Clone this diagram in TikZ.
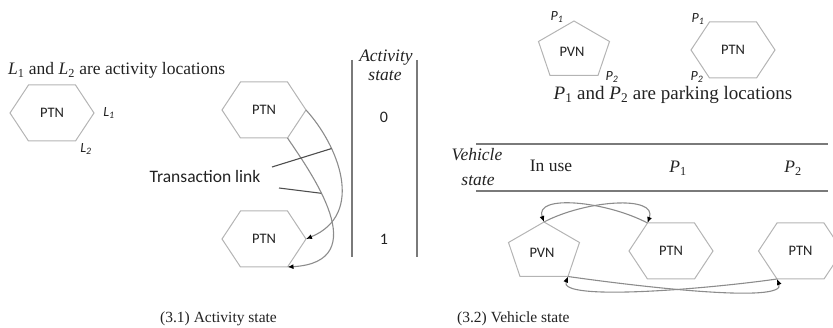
\documentclass[tikz,border=0pt]{standalone}
\usepackage{fontspec}
\setmainfont{Liberation Serif}
\newfontfamily\calfont{Carlito}
\usetikzlibrary{arrows.meta}
\definecolor{shapegray}{HTML}{B4B4B4}
\definecolor{curvegray}{HTML}{8C8C8C}
\definecolor{rulegray}{HTML}{7A7A7A}
\definecolor{inkgray}{HTML}{222222}
\begin{document}
\begin{tikzpicture}[x=1pt,y=-1pt,
  shapeline/.style={draw=shapegray, line width=1pt},
  boxtext/.style={font=\calfont\fontsize{14.5}{16}\selectfont, text=inkgray, inner sep=0pt},
  sanslabel/.style={font=\calfont\itshape\fontsize{14}{16}\selectfont, text=inkgray, inner sep=0pt},
  serif/.style={font=\fontsize{17.5}{20}\selectfont, text=inkgray, inner sep=0pt, anchor=base},
  serifit/.style={font=\itshape\fontsize{17.5}{20}\selectfont, text=inkgray, inner sep=0pt, anchor=base},
  captext/.style={font=\fontsize{15.5}{18}\selectfont, text=inkgray, inner sep=0pt, anchor=base west},
  digit/.style={font=\calfont\fontsize{16}{18}\selectfont, text=inkgray, inner sep=0pt, anchor=base},
  flow/.style={draw=curvegray, line width=1.1pt, -{Latex[length=6pt,width=5pt,color=black]}},
  pointer/.style={draw=inkgray!80, line width=1.1pt},
  rule/.style={draw=rulegray, line width=2pt},
  hexa/.pic={
    \draw[shapeline] (-42,0) coordinate (-l) -- (-23.5,-28) coordinate (-tl)
      -- (23.5,-28) coordinate (-tr) -- (42,0) coordinate (-r)
      -- (23.5,28) coordinate (-br) -- (-23.5,28) coordinate (-bl) -- cycle;
    \node[boxtext] (-c) at (0,0) {#1};
  },
  penta/.pic={
    \draw[shapeline] (0,-28.5) coordinate (-t) -- (35.5,-8) coordinate (-r)
      -- (24,26) coordinate (-br) -- (-24,26) coordinate (-bl)
      -- (-35.5,-8) coordinate (-l) -- cycle;
    \node[boxtext] (-c) at (-2,2) {#1};
  }
]
\useasboundingbox (0,0) rectangle (833,328);

% ---------- (3.1) Activity state ----------
\node[serif, anchor=base west] (legA) at (8,75)
  {\textit{L}\textsubscript{1} and \textit{L}\textsubscript{2} are activity locations};
\pic (lh) at (52,113) {hexa=PTN};
\node[sanslabel] (lL1) at (109,113) {L\textsubscript{1}};
\node[sanslabel] (lL2) at (86,149) {L\textsubscript{2}};

\pic (h1) at (264,110) {hexa=PTN};
\pic (h2) at (264,239) {hexa=PTN};

\draw[flow] (h1-r) .. controls +(32,35) and +(60,-25) .. (h2-r)
  coordinate[pos=0.3] (o1);
\draw[flow] (h1-br) .. controls +(23,34) and +(88,-5) .. (h2-br)
  coordinate[pos=0.38] (i1);

\node[font=\calfont\fontsize{17.5}{20}\selectfont, text=inkgray, inner sep=0pt, anchor=base]
  (tl) at (205,183) {Transaction link};
\coordinate (pA) at (272,167);
\coordinate (pB) at (279,188);
\draw[pointer] (pA) -- (o1);
\draw[pointer] (pB) -- (i1);

\coordinate (vlT) at (352,60);
\coordinate (vlB) at (352,257);
\coordinate (vrT) at (417,60);
\coordinate (vrB) at (417,257);
\draw[rule] (vlT) -- (vlB);
\draw[rule] (vrT) -- (vrB);
\node[serifit] (asA) at (386,62) {Activity};
\node[serifit] (asB) at (385,81) {state};
\node[digit] (d0) at (384,123) {0};
\node[digit] (d1) at (384,245) {1};

\node[captext] (cap1) at (160,323) {(3.1) Activity state};

% ---------- (3.2) Vehicle state ----------
\pic (lp) at (574,49.5) {penta=PVN};
\node[sanslabel] (lP1a) at (557,17) {P\textsubscript{1}};
\node[sanslabel] (lP2a) at (612,77) {P\textsubscript{2}};
\pic (lh2) at (733,50) {hexa=PTN};
\node[sanslabel] (lP1b) at (698,19) {P\textsubscript{1}};
\node[sanslabel] (lP2b) at (697,77) {P\textsubscript{2}};
\node[serif, font=\fontsize{19}{22}\selectfont] (legB) at (673,100)
  {\textit{P}\textsubscript{1} and \textit{P}\textsubscript{2} are parking locations};

\coordinate (rtL) at (476,144);
\coordinate (rtR) at (828,144);
\coordinate (rbL) at (476,191);
\coordinate (rbR) at (828,191);
\draw[rule] (rtL) -- (rtR);
\draw[rule] (rbL) -- (rbR);
\node[serifit] (vsA) at (477,161) {Vehicle};
\node[serifit] (vsB) at (478,186) {state};
\node[serif] (inuse) at (551,172) {In use};
\node[serif] (cP1) at (678,173) {\textit{P}\textsubscript{1}};
\node[serif] (cP2) at (793,173) {\textit{P}\textsubscript{2}};

\pic (v1) at (544,250.5) {penta=PVN};
\pic (m) at (671,251) {hexa=PTN};
\pic (r) at (800.5,251) {hexa=PTN};

\draw[flow] (v1-t) .. controls +(42,-22) and +(10,-28) .. (m-tl);
\draw[flow] (m-tl) .. controls +(-42,-22) and +(-10,-28) .. (v1-t);
\draw[flow] (v1-br) .. controls +(70,10) and +(10,25) .. (r-bl);
\draw[flow] (r-bl) .. controls +(-70,10) and +(-10,25) .. (v1-br);

\node[captext] (cap2) at (457,323) {(3.2) Vehicle state};
\end{tikzpicture}
\end{document}
